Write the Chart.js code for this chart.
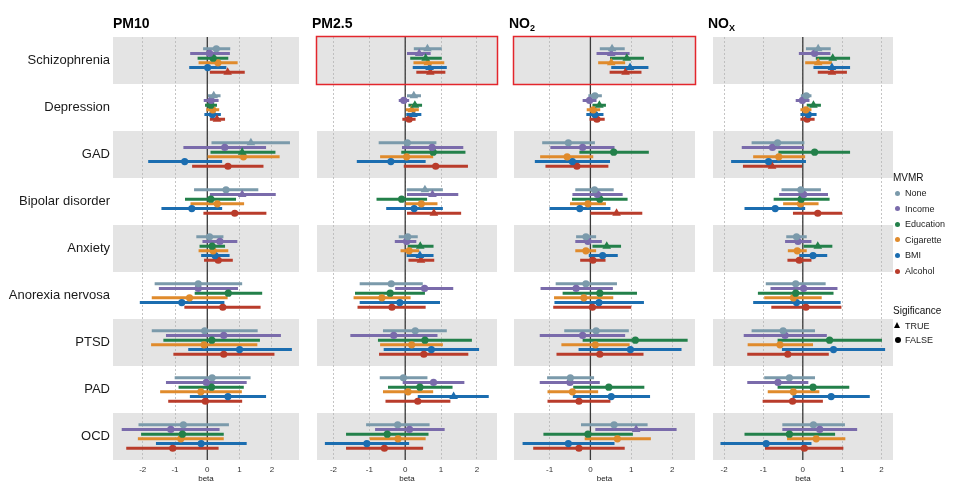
<!DOCTYPE html>
<html><head><meta charset="utf-8">
<script src="https://cdn.jsdelivr.net/npm/chart.js@4"></script>
<style>
html,body{margin:0;padding:0;background:#fff;width:960px;height:482px;overflow:hidden;font-family:"Liberation Sans",Arial,sans-serif;}
canvas{position:absolute;top:0;}
.title{position:absolute;top:15px;font-weight:bold;font-size:14px;line-height:16px;color:#000;}
.title sub{font-size:9px;vertical-align:-3px;line-height:0;}
.lg{position:absolute;font-size:9px;color:#222;line-height:10px;white-space:nowrap;}
.lgt{position:absolute;font-size:10px;color:#111;line-height:12px;}
.dot{position:absolute;width:5px;height:5px;border-radius:50%;}
</style></head><body>
<canvas id="c0" width="304" height="484" style="left:0px"></canvas>
<canvas id="c1" width="190" height="484" style="left:312px"></canvas>
<canvas id="c2" width="191" height="484" style="left:509px"></canvas>
<canvas id="c3" width="190" height="484" style="left:708px"></canvas>
<div class="title" style="left:113px">PM10</div>
<div class="title" style="left:312px">PM2.5</div>
<div class="title" style="left:509px">NO<sub>2</sub></div>
<div class="title" style="left:708px">NO<sub>X</sub></div>
<div id="legend"></div>
<script>
const outcomes = ['Schizophrenia','Depression','GAD','Bipolar disorder','Anxiety','Anorexia nervosa','PTSD','PAD','OCD'];
const models = ['None','Income','Education','Cigarette','BMI','Alcohol'];
const modelColors = ['#7b9aab','#7a6bab','#23804a','#e08b2c','#1b6db0','#b93c2b'];
const sigLabels = ['TRUE','FALSE'];

// rows: models (None, Income, Education, Cigarette, BMI, Alcohol); columns: outcomes
const pm10Beta = [
  [0.28,0.20,1.35,0.58,0.07,-0.28,-0.08,0.15,-0.74],
  [0.07,0.12,0.54,1.08,0.39,-0.28,0.51,-0.03,-1.13],
  [0.18,0.11,1.08,0.11,0.15,0.65,0.14,0.13,-0.77],
  [0.33,0.17,1.12,0.31,0.18,-0.55,-0.10,-0.20,-0.82],
  [0.01,0.16,-0.70,-0.48,0.24,-0.79,1.00,0.64,-0.19],
  [0.63,0.30,0.64,0.85,0.34,0.48,0.51,-0.06,-1.07]];
const pm10Lo = [
  [-0.13,0.02,0.13,-0.41,-0.34,-1.63,-1.72,-1.01,-2.13],
  [-0.53,-0.11,-0.74,0.08,-0.15,-1.50,-1.28,-1.28,-2.65],
  [-0.30,-0.07,0.10,-0.69,-0.24,-0.39,-1.36,-0.89,-2.05],
  [-0.27,-0.03,0.01,-0.52,-0.27,-1.72,-1.74,-1.46,-2.15],
  [-0.56,-0.09,-1.83,-1.42,-0.19,-2.09,-0.59,-0.54,-1.59],
  [0.08,0.08,-0.47,-0.12,-0.10,-0.71,-1.05,-1.21,-2.51]];
const pm10Hi = [
  [0.71,0.41,2.56,1.58,0.50,1.08,1.56,1.34,0.67],
  [0.70,0.35,1.82,2.12,0.93,0.95,2.28,1.22,0.38],
  [0.65,0.30,2.11,0.89,0.55,1.70,1.63,1.13,0.51],
  [0.94,0.37,2.24,1.14,0.65,0.63,1.55,1.07,0.51],
  [0.59,0.42,0.46,0.46,0.69,0.53,2.62,1.82,1.22],
  [1.16,0.55,1.74,1.83,0.79,1.65,2.08,1.08,0.35]];
const pm10Sig = [
  [0,1,1,0,0,0,0,0,0],[0,0,0,1,0,0,0,0,0],[0,0,1,0,0,0,0,0,0],
  [0,0,0,0,0,0,0,0,0],[0,0,0,0,0,0,0,0,0],[1,1,0,0,0,0,0,0,0]];

const pm25Beta = [
  [0.62,0.24,0.06,0.55,0.07,-0.39,0.28,-0.05,-0.21],
  [0.39,-0.04,0.75,0.76,0.04,0.54,-0.32,0.79,0.12],
  [0.57,0.27,0.78,-0.10,0.42,-0.42,0.55,0.41,-0.50],
  [0.63,0.18,0.04,0.45,0.11,-0.65,0.18,0.08,-0.20],
  [0.68,0.23,-0.40,0.25,0.41,-0.15,0.73,1.35,-1.07],
  [0.70,0.11,0.85,0.80,0.44,-0.37,0.52,0.35,-0.58]];
const pm25Lo = [
  [0.24,0.05,-0.74,0.04,-0.18,-1.27,-0.62,-0.71,-1.09],
  [0.05,-0.18,-0.09,0.05,-0.29,-0.28,-1.53,-0.07,-0.84],
  [0.14,0.09,-0.11,-0.80,0.07,-1.40,-0.76,-0.48,-1.65],
  [0.23,0.02,-0.70,0.01,-0.13,-1.44,-0.70,-0.62,-0.99],
  [0.21,0.03,-1.35,-0.53,0.04,-1.27,-0.60,0.35,-2.24],
  [0.31,-0.08,-0.04,0.05,0.09,-1.33,-0.73,-0.55,-1.65]];
const pm25Hi = [
  [1.02,0.44,0.87,1.05,0.35,0.49,1.16,0.62,0.68],
  [0.71,0.11,1.62,1.48,0.31,1.34,0.90,1.65,1.10],
  [1.02,0.47,1.68,0.61,0.79,0.55,1.86,1.32,0.65],
  [1.09,0.38,0.78,0.90,0.39,0.15,1.05,0.78,0.57],
  [1.16,0.45,0.57,1.05,0.79,0.97,2.06,2.33,0.11],
  [1.12,0.29,1.75,1.56,0.81,0.57,1.76,1.26,0.50]];
const pm25Sig = [
  [1,1,0,1,0,0,0,0,0],[1,0,0,1,0,0,0,0,0],[1,1,0,0,1,0,0,0,0],
  [1,1,0,0,0,0,0,0,0],[1,1,0,0,1,0,0,1,0],[1,0,0,1,1,0,0,0,0]];

const no2Beta = [
  [0.53,0.11,-0.54,0.10,-0.11,-0.11,0.14,-0.49,0.58],
  [0.51,-0.02,-0.19,0.17,-0.06,-0.35,-0.19,-0.50,1.12],
  [0.89,0.22,0.57,0.23,0.40,0.23,1.10,0.45,-0.06],
  [0.51,0.07,-0.57,-0.06,-0.11,-0.16,0.12,-0.44,0.66],
  [0.97,0.11,-0.44,-0.26,0.30,0.21,0.98,0.51,-0.54],
  [0.86,0.16,-0.33,0.64,0.06,0.05,0.23,-0.28,-0.28]];
const no2Lo = [
  [0.23,-0.05,-1.18,-0.37,-0.35,-0.85,-0.64,-1.06,-0.23],
  [0.15,-0.19,-0.98,-0.44,-0.37,-1.22,-1.24,-1.24,0.12],
  [0.48,0.05,-0.27,-0.45,0.05,-0.68,-0.19,-0.42,-1.15],
  [0.19,-0.09,-1.23,-0.50,-0.37,-0.89,-0.71,-1.05,-0.14],
  [0.51,-0.10,-1.36,-1.00,-0.04,-0.88,-0.29,-0.43,-1.66],
  [0.47,-0.02,-1.10,0.00,-0.25,-0.91,-0.83,-1.05,-1.40]];
const no2Hi = [
  [0.84,0.28,0.11,0.57,0.14,0.65,0.94,0.09,1.40],
  [0.96,0.15,0.59,0.79,0.28,0.55,0.85,0.23,2.11],
  [1.31,0.38,1.43,0.91,0.75,1.14,2.38,1.32,1.04],
  [0.85,0.24,0.07,0.38,0.14,0.56,0.96,0.19,1.48],
  [1.42,0.32,0.48,0.49,0.67,1.31,2.23,1.46,0.59],
  [1.25,0.35,0.44,1.27,0.37,1.00,1.30,0.49,0.84]];
const no2Sig = [
  [1,0,0,0,0,0,0,0,0],[1,0,0,0,0,0,0,0,1],[1,1,0,0,1,0,0,0,0],
  [1,0,0,0,0,0,0,0,0],[1,0,0,0,0,0,0,0,0],[1,0,0,1,0,0,0,0,0]];

const noxBeta = [
  [0.39,0.09,-0.64,-0.05,-0.16,-0.18,-0.50,-0.34,0.27],
  [0.30,-0.01,-0.77,0.02,-0.12,0.02,-0.45,-0.63,0.43],
  [0.76,0.27,0.30,-0.04,0.38,-0.18,0.68,0.26,-0.34],
  [0.39,0.08,-0.61,-0.06,-0.14,-0.24,-0.58,-0.24,0.34],
  [0.74,0.14,-0.87,-0.70,0.26,-0.16,0.78,0.72,-0.93],
  [0.74,0.11,-0.78,0.38,-0.09,0.08,-0.38,-0.26,0.04]];
const noxLo = [
  [0.08,-0.05,-1.30,-0.54,-0.42,-0.94,-1.30,-0.98,-0.52],
  [-0.10,-0.18,-1.55,-0.60,-0.45,-0.82,-1.50,-1.41,-0.52],
  [0.33,0.10,-0.62,-0.74,0.02,-1.14,-0.64,-0.64,-1.48],
  [0.06,-0.06,-1.26,-0.50,-0.38,-0.98,-1.40,-0.89,-0.40],
  [0.27,-0.06,-1.82,-1.48,-0.09,-1.26,-0.53,-0.26,-2.09],
  [0.38,-0.06,-1.52,-0.25,-0.39,-0.80,-1.41,-1.02,-0.96]];
const noxHi = [
  [0.71,0.22,0.04,0.46,0.10,0.58,0.31,0.31,1.07],
  [0.70,0.17,0.03,0.64,0.22,0.88,0.61,0.14,1.38],
  [1.20,0.46,1.20,0.68,0.75,0.78,2.01,1.18,0.82],
  [0.74,0.22,0.06,0.40,0.10,0.48,0.26,0.42,1.08],
  [1.20,0.35,0.08,0.06,0.62,0.96,2.09,1.70,0.22],
  [1.12,0.30,-0.02,1.00,0.22,0.98,0.66,0.51,1.03]];
const noxSig = [
  [1,0,0,0,0,0,0,0,0],[0,0,0,0,0,0,0,0,0],[1,1,0,0,1,0,0,0,0],
  [1,0,0,0,0,0,0,0,0],[1,0,0,0,0,0,0,0,0],[1,0,1,0,0,0,0,0,0]];

const ticksWide = [-2,-1,0,1,2];
const ticksNO2 = [-1,0,1,2];

const deco = {
  id: 'deco',
  beforeDraw(chart) {
    const {ctx, chartArea: a} = chart; const y = chart.scales.y;
    ctx.save(); ctx.fillStyle = '#e4e4e4';
    outcomes.forEach((o, r) => {
      if (r % 2 === 0) {
        const p1 = y.getPixelForValue(r - 0.5), p2 = y.getPixelForValue(r + 0.5);
        ctx.fillRect(a.left, Math.min(p1,p2), a.right - a.left, Math.abs(p2 - p1));
      }
    });
    ctx.restore();
  },
  beforeDatasetsDraw(chart) {
    const {ctx, chartArea: a} = chart; const px = chart.scales.x.getPixelForValue(0);
    ctx.save(); ctx.strokeStyle = '#3a3a3a'; ctx.lineWidth = 1.3;
    ctx.beginPath(); ctx.moveTo(px, a.top); ctx.lineTo(px, a.bottom); ctx.stroke(); ctx.restore();
  },
  afterDatasetsDraw(chart, args, opts) {
    if (!opts.box) return;
    const {ctx, chartArea: a} = chart; const y = chart.scales.y;
    const p1 = y.getPixelForValue(-0.5), p2 = y.getPixelForValue(0.5);
    ctx.save(); ctx.strokeStyle = '#e3262c'; ctx.lineWidth = 1.5;
    ctx.strokeRect(a.left - 0.5, Math.min(p1,p2) - 0.5, a.right - a.left + 1, Math.abs(p2 - p1) + 1);
    ctx.restore();
  }
};

function makePanel(id, beta, lo, hi, sig, xmin, xmax, tickVals, showY, box) {
  const datasets = [];
  models.forEach((m, k) => {
    const ci = [];
    outcomes.forEach((o, r) => {
      const yv = r + (k - 2.5) * 0.1;
      ci.push({x: lo[k][r], y: yv}, {x: hi[k][r], y: yv}, {x: null, y: null});
    });
    datasets.push({type: 'line', label: m + ' CI', data: ci, borderColor: modelColors[k], borderWidth: 3,
      pointRadius: 0, spanGaps: false, tension: 0, order: 1, borderCapStyle: 'butt'});
    datasets.push({type: 'scatter', label: m, order: 0,
      data: outcomes.map((o, r) => ({x: beta[k][r], y: r + (k - 2.5) * 0.1})),
      pointStyle: sig[k].map(s => s ? 'triangle' : 'circle'),
      pointRadius: sig[k].map(s => s ? 5 : 3.6),
      pointBackgroundColor: modelColors[k], pointBorderColor: modelColors[k], pointBorderWidth: 0,
      backgroundColor: modelColors[k], borderColor: modelColors[k]});
  });
  return new Chart(document.getElementById(id), {
    data: {datasets},
    plugins: [deco],
    options: {
      responsive: false, animation: false, events: [],
      layout: {padding: {top: 37, right: showY ? 1 : 0, left: 0, bottom: 0}},
      plugins: {legend: {display: false}, tooltip: {enabled: false}, deco: {box}},
      scales: {
        x: {type: 'linear', min: xmin, max: xmax,
          afterBuildTicks: s => { s.ticks = tickVals.map(v => ({value: v})); },
          afterFit: s => { s.height = 24; },
          grid: {color: '#b5b5b5', lineWidth: 0.8, drawTicks: false},
          border: {display: false, dash: [2, 2]},
          ticks: {font: {size: 8, family: 'Liberation Sans'}, color: '#333', padding: 5, maxRotation: 0},
          title: {display: true, text: 'beta', font: {size: 8, family: 'Liberation Sans'}, color: '#222', padding: 0}},
        y: {type: 'linear', min: -0.5, max: 8.5, reverse: true, display: showY,
          afterBuildTicks: s => { s.ticks = outcomes.map((o, i) => ({value: i})); },
          afterFit: s => { s.width = showY ? 113 : 0; },
          grid: {display: false, drawTicks: false}, border: {display: false},
          ticks: {callback: v => outcomes[v] || '', font: {size: 13, family: 'Liberation Sans'}, color: '#1a1a1a', padding: 3}}
      }
    }
  });
}

makePanel('c0', pm10Beta, pm10Lo, pm10Hi, pm10Sig, -2.92, 2.84, ticksWide, true, false);
makePanel('c1', pm25Beta, pm25Lo, pm25Hi, pm25Sig, -2.46, 2.56, ticksWide, false, true);
makePanel('c2', no2Beta, no2Lo, no2Hi, no2Sig, -1.87, 2.56, ticksNO2, false, true);
makePanel('c3', noxBeta, noxLo, noxHi, noxSig, -2.28, 2.29, ticksWide, false, false);

// legend
const lg = document.getElementById('legend');
let html = '<div class="lgt" style="left:893px;top:172px">MVMR</div>';
models.forEach((m, k) => {
  const yc = 193 + k * 15.6;
  html += `<div class="dot" style="left:895px;top:${yc - 2.5}px;background:${modelColors[k]}"></div>`;
  html += `<div class="lg" style="left:905px;top:${yc - 5}px">${m}</div>`;
});
html += '<div class="lgt" style="left:893px;top:305px">Sigificance</div>';
html += `<div style="position:absolute;left:894px;top:322px;width:0;height:0;border-left:3.5px solid transparent;border-right:3.5px solid transparent;border-bottom:6px solid #000"></div>`;
html += `<div class="lg" style="left:905px;top:321px">${sigLabels[0]}</div>`;
html += `<div class="dot" style="left:895px;top:337px;width:6px;height:6px;background:#000"></div>`;
html += `<div class="lg" style="left:905px;top:335px">${sigLabels[1]}</div>`;
lg.innerHTML = html;
</script>
</body></html>
